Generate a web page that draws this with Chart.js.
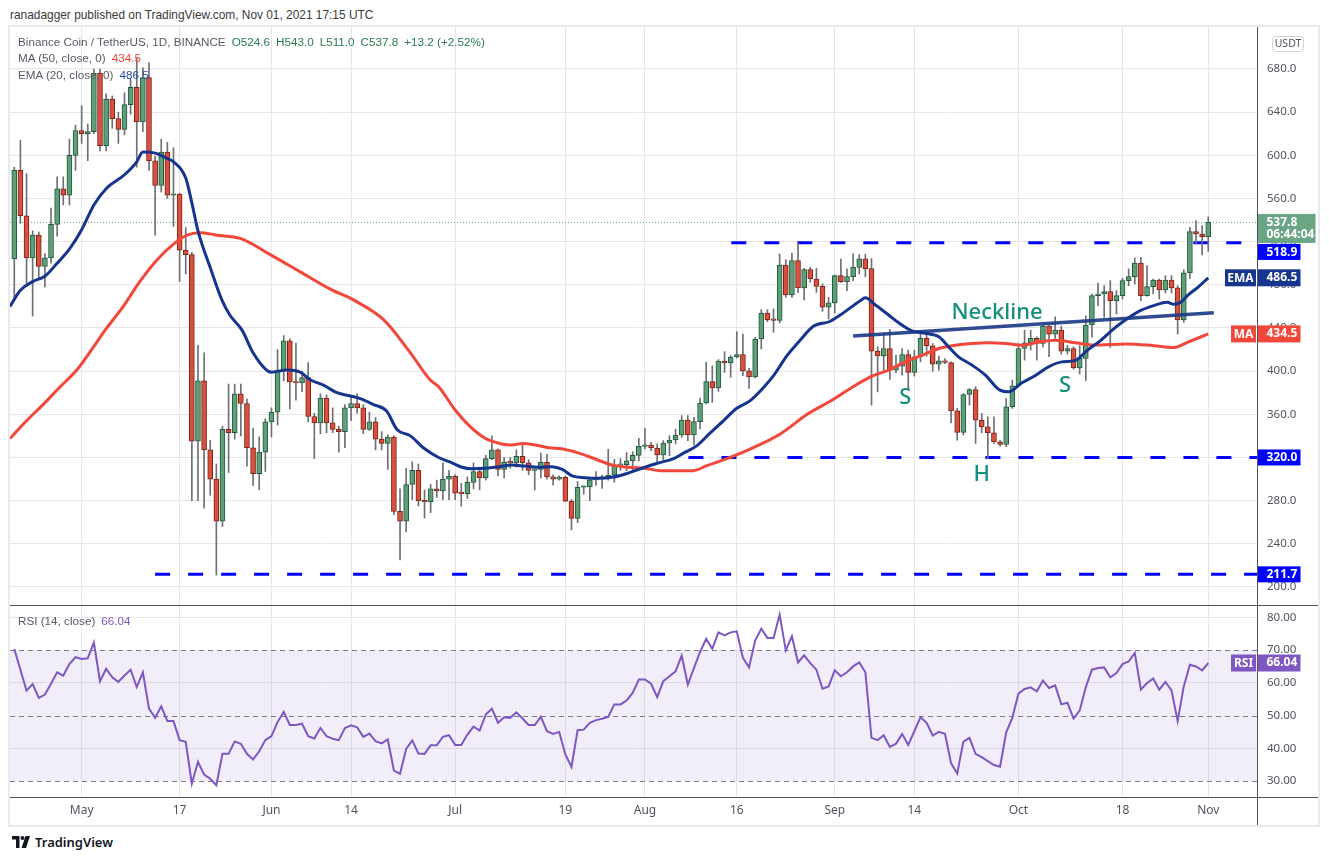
<!DOCTYPE html>
<html>
<head>
<meta charset="utf-8">
<script src="https://cdn.jsdelivr.net/npm/chart.js@4.4.0/dist/chart.umd.min.js"></script>
<style>
html,body{margin:0;padding:0;background:#fff;width:1329px;height:860px;overflow:hidden;font-family:"Noto Sans",sans-serif;}
#frame{position:absolute;left:8px;top:25px;width:1312px;height:802px;border:2px solid #e8eaef;box-sizing:border-box;}
#pub{position:absolute;left:10px;top:6px;font-family:"Liberation Sans",Arial,sans-serif;font-size:11.9px;line-height:18px;color:#3a3a3a;white-space:nowrap;}
#pricebox{position:absolute;left:0;top:27px;width:1329px;height:578px;}
#rsibox{position:absolute;left:0;top:605px;width:1329px;height:220px;}
.hl{position:absolute;left:10px;width:1308px;height:1px;background:#50535e;}
.vl{position:absolute;left:1257px;top:27px;width:1px;height:798px;background:#50535e;}
.leg{position:absolute;left:18px;font-family:"Liberation Sans",Arial,sans-serif;font-size:11.7px;line-height:18px;white-space:nowrap;color:#555a64;}
.leg span{margin-right:6px;}
.g{color:#2b7a53;}
#tv{position:absolute;left:12px;top:833px;display:flex;align-items:center;gap:5px;font-size:13px;font-weight:600;color:#131722;}
</style>
</head>
<body>
<div id="frame"></div>
<div id="pub">ranadagger published on TradingView.com, Nov 01, 2021 17:15 UTC</div>
<div id="pricebox"><canvas id="price" width="1329" height="578"></canvas></div>
<div id="rsibox"><canvas id="rsi" width="1329" height="220"></canvas></div>
<div class="hl" style="top:605px"></div>
<div class="hl" style="top:797px"></div>
<div class="vl"></div>
<div class="leg" id="leg1" style="top:33px"></div>
<div class="leg" id="leg2" style="top:49px"></div>
<div class="leg" id="leg3" style="top:66px"></div>
<div class="leg" id="leg4" style="top:612px"></div>
<div id="tv"><svg width="18" height="12" viewBox="0 0 36 24"><path d="M0 0h15v24H8V7H0z" fill="#131722"/><circle cx="21" cy="4" r="4" fill="#131722"/><path d="M27 0h9L28 24H19z" fill="#131722"/></svg><span>TradingView</span></div>
<script>
// ---------------- data ----------------
const startDate = '2021-04-20';
const opens = [504,586,544,505,526,497,505,536,569,563,
600,623,620,622,676,609,652,634,624,647,
663,631,672,595,572,603,563,564,512,508,
335,391,327,300,261,346,343,379,370,329,
305,325,353,362,401,428,390,389,394,358,
352,375,352,346,344,366,370,366,346,353,
337,333,339,270,261,295,308,280,279,291,
289,300,302.5,287,286.5,297,307,301,319,327,
309,316,315,321,315,308,309,315.5,302,300,
301.6,279.4,263.6,292.4,292.8,299.2,300.7,301.6,303.5,312.7,
313.4,316.8,322,330.3,331.6,328.8,322.3,333.4,336.2,340.8,
354.7,340.8,353.2,370.5,390.3,384.4,409.4,407.6,413.1,415.3,
400.2,394.6,429.8,453.9,447.4,447,498.4,470.6,502.4,477.1,
494,485.4,478.6,459.2,463.2,488.5,482.9,487.6,496.2,504,
495,418.5,414.2,421,400.9,404.6,415.4,398.8,413.3,430.3,
423.5,406.5,409.6,408,363.2,343.2,378.4,383,354.6,348.4,
342.9,334.5,332,367,386.4,421,426.3,430.3,425.6,441.7,
434.3,438,418.5,421,403,411.9,442.8,470,471.5,473.7,
465.3,470,483.9,487.6,500.2,470,478.3,484.5,475.2,484.5,
477.1,447.4,491,529.3,527.1,524.6];
const highs = [589,614,583,530,529,509,551,580,580,615,
628,646,629,680,680,657,655,640,658,671,
690,681,686,599,615,612,607,565,533,510,
424,417,336,314,349,388,388,388,374,347,
339,356,366,420,433,430,426,400,408,361,
379,378,366,349,369,377,379,369,362,357,
344,341,340,291,310,316,314,290,295,299,
315,308,304,296,302,315,311,322,340,328,
320,320,327,334,318,311.5,324,323,304,303,
303,281,297.6,293.6,301.6,307,303.8,327.6,318.3,319,
324.5,325.4,337.8,347,334,332.5,335.6,340.2,346.4,358.8,
358.8,357.2,375.1,408.2,405,410.7,418,414.4,436.6,434.4,
402.6,431.3,457,457,457.6,508.6,503.3,509.5,518.8,495.3,
496.2,495.3,480.8,468.4,489.1,503.9,494.7,508.6,508,508.4,
504.4,422.5,435.5,438.6,414.8,421,419.5,419.5,437.4,435.5,
425.6,413.9,411.7,408.6,365.4,379.3,383.9,385.5,360.8,357.7,
357.7,336,374.7,391.7,425.6,438,438,431.8,443.6,442.5,
450.3,441.7,424,422.5,423.6,451.4,471.5,481.7,479.2,483.9,
474.6,486,494.7,504.9,505.5,497.8,485.4,485.4,488.5,488.5,
479.2,494,533.3,539.5,534.8,543];
const lows = [468,537,480,451,486,478,500,525,554,554,
586,611,595,620,604,604,625,611,619,638,
589,622,586,526,566,560,534,483,490,280,
280,273,285,211,256,306,337,340,312,294,
290,307,339,350,391,365,373,381,353,319,
342,343,343,325,329,354,361,342,345,327,
327,309,267,225,251,281,275,264,269,283,
281,281,281,275,282,291,290,299,318,303,
301,310,311,308,304,290,301,300,294.5,299,
279,253,259.6,286,280,294,291.4,299,297,308,
307.8,307,316.8,327.9,326.3,315.5,318,321.7,332.5,338.7,
335.6,331.6,346.4,369.6,371.1,381.3,398.9,394.3,412.2,395.8,
384,393.7,420.5,445.9,436,444.6,468.4,468.4,473,466,
482.3,473,455.4,448.3,453.9,482.3,474.6,483.9,490,487.4,
368.5,380.8,399.4,392.3,398.5,396.3,382.4,395.4,408.6,413.9,
400,400.9,407,352.1,336,340.7,368.5,333,342.9,319,
333,330.5,329.9,365.4,385.5,410.2,419.5,410.2,422.5,413.3,
430.3,415.8,415.8,401.9,397.4,391.2,431.4,460.7,449.9,422,
453,466.9,479.2,480.8,465.3,469.4,471.5,466.9,472.4,472.4,
434.4,445.2,486,517.8,507.6,511];
const closes = [586,544,505,526,497,505,536,569,563,600,
623,620,622,676,609,652,634,624,647,663,
631,672,595,572,603,563,564,512,508,335,
391,327,300,261,346,343,379,370,329,305,
325,353,362,401,428,390,389,394,358,352,
375,352,346,344,366,370,366,346,353,337,
333,339,270,261,295,308,280,279,291,289,
300,302.5,287,286.5,297,307,301,319,327,309,
316,315,321,315,308,309,315.5,302,300,301.6,
279.4,263.6,292.4,292.8,299.2,300.7,301.6,303.5,312.7,313.4,
316.8,322,330.3,331.6,328.8,322.3,333.4,336.2,340.8,354.7,
340.8,353.2,370.5,390.3,384.4,409.4,407.6,413.1,415.3,400.2,
394.6,429.8,453.9,447.4,447,498.4,470.6,502.4,477.1,494,
485.4,478.6,459.2,463.2,488.5,482.9,487.6,496.2,504,495,
418.5,414.2,421,400.9,404.6,415.4,398.8,413.3,430.3,423.5,
406.5,409.6,408,363.2,343.2,378.4,383,354.6,348.4,342.9,
334.5,332,367,386.4,421,426.3,430.3,425.6,441.7,434.3,
438,418.5,421,403,411.9,442.8,470,471.5,473.7,465.3,
470,483.9,487.6,500.2,470,478.3,484.5,475.2,484.5,477.1,
447.4,491,529.3,527.1,524.6,537.8];
const rsi14 = [70.3,64,57.6,59.6,55.4,56.4,59.7,63.2,62.2,65.7,
67.8,67.3,67.5,72.3,60.5,64.3,61.7,60.3,62.2,64,
58.7,63.2,52.1,49.3,52.8,48.3,48.3,42.5,42,29.2,
35.9,32,30.7,28.7,38.3,38.3,42.1,41.4,38.3,36.6,
39.1,42.5,43.7,48,51.1,47.1,47.1,47.5,43.7,43,
46.2,43.7,42.9,42.5,46.2,47,46.4,43.5,44.5,42.2,
41.5,42.7,33.2,32.2,39.8,42.4,38.4,38.3,40.9,40.9,
43.5,44,41,41,44.2,46.6,45.4,50.3,52.1,47.8,
49.5,49.3,51,49.1,47.1,47.1,49.6,45.2,44.4,45,
38.1,34.3,45.5,45.7,47.8,48.6,49,49.6,53.4,53.4,
54.6,56.9,61,61,59.7,55.6,60.5,62,63.5,68.3,
59.4,64.5,69.4,73.4,70.4,75.4,74.5,75.4,75.7,67.6,
64.7,72.9,76.5,73.7,73.7,80.8,69.9,74.2,66.2,68.4,
66,64,58.2,58.9,63.8,62,63.2,65,66.2,63.2,
43.2,42.5,44,40.4,41.4,44.4,41,45.2,49.5,47.8,
43.9,45,44.4,35.4,32.3,42,43.2,38.3,37.3,36.1,
34.9,34.4,44.9,49.3,56.7,58.1,58.6,57.4,60.7,58.4,
59.2,53.4,53.9,49.1,51.5,58.7,64,64.5,64.7,61.7,
63,65.7,66.5,69.1,57.9,59.9,61.3,57.9,60.3,57.7,
48.3,58.9,65.5,65,63.8,66.04];
// [day index, value]
const ema20 = [[-0.7,460],[1,475],[3,483],[5,488],[7,500],[9,513],[11,531],[13,554],[15,569],[18,582],[20,594],[21,603],[23,602],[25,597],[26,594],[28,579],[29,556],[30,530],[32,496],[33.9,466],[35.2,452],[37.2,438],[39,417],[41.2,401],[42,399],[44.5,401],[46.7,399],[48.3,392],[50.5,387],[52.7,380],[54.9,377],[56.5,374.5],[58.7,369],[60.8,363],[62.5,346],[64.7,340],[66.8,329],[69.3,320],[71.5,315],[73.1,311],[74.7,309.6],[76.9,310],[79.1,311.5],[81.3,313],[83.4,312],[85.6,311],[87.8,311.5],[89.5,309],[91.1,303],[93.2,301.3],[95.4,300.7],[97.6,301.6],[99.8,304.7],[102,309],[105,314.6],[107.7,319],[109.3,324],[111.5,331],[113.7,343],[115.8,354],[118,365.6],[120.2,372.7],[122.4,385],[124,395.8],[126.2,414.4],[128.3,428.3],[130.5,441.5],[133.2,446],[135.4,454],[138.1,465],[139,468],[140.7,461],[142.8,452],[144.4,445],[146.6,437.4],[148.8,435],[151,431.8],[152.6,422.5],[154.2,413.3],[156.4,405.6],[158.6,396.3],[160.8,383],[162.4,380.8],[164.5,389],[166.7,395.7],[168.9,404],[171.1,408.6],[173.3,410],[175.2,419],[177.4,428.3],[179.5,439],[181.7,448.3],[183.9,456],[186.1,460.7],[188.3,463.8],[189.4,462],[190.5,463.8],[191.6,470],[193.3,477.7],[195,486.5]];
const ma50 = [[-0.7,337.5],[2,354],[4.7,369],[7.5,385.5],[10.2,401],[12.4,418],[15.1,440],[17.8,460],[20.5,483],[23.3,503],[26,517.7],[28.2,526],[30.3,528.3],[33.1,526],[36.9,523],[41.8,508],[46.7,492],[51.6,476],[55.4,466],[60.3,447.7],[64.7,417],[67.9,392],[69.3,385.6],[72,364],[74.2,350],[76.9,337.8],[79.6,332.5],[81.3,331.6],[82.9,333],[85.1,331.6],[87.3,329],[89.4,328],[92.2,324],[94.9,318.6],[97.6,313],[100.3,311],[103,310],[105.5,307.8],[110.9,307.8],[113.1,312.4],[116.4,319],[120.8,329.4],[125.1,341.8],[129.5,360],[133.8,374],[137.4,387],[140.1,395.4],[142.8,401],[145.5,408.6],[148.3,414.8],[151,421],[153.7,424],[156.4,425.6],[159.1,426.3],[161.9,425.6],[164.6,424],[167.3,427],[170,428.7],[173.3,426.3],[176.3,424.2],[181.7,425.2],[186.1,423.6],[189.4,422],[191.6,426.7],[195,434.5]];
const necklinePts = [[137,432.6],[195.9,454.0]];
const keyLevels = [518.9, 320.0, 211.7];
const keyLevelFromDay = [117.1, 110.1, 23.0];
const priceTicks = [200,240,280,320,360,400,440,480,520,560,600,640,680];
const rsiTicks = [30,40,50,60,70,80];
const rsiBands = [30,50,70];
const tickDates = ['2021-05-01','2021-05-17','2021-06-01','2021-06-14','2021-07-01','2021-07-19','2021-08-01','2021-08-16','2021-09-01','2021-09-14','2021-10-01','2021-10-18','2021-11-01'];
const countdown = '06:44:04';
const patternLabels = [
  {text:'Neckline', day:160.5, price:453.9},
  {text:'S', day:145.5, price:375.1},
  {text:'H', day:158.0, price:303.8},
  {text:'S', day:171.6, price:386.2}
];

// ---------------- derived ----------------
const N = closes.length, last = N - 1;
const X_MIN = -0.7, X_MAX = 202.96;
const P_MIN = 183.3, P_MAX = 718.9;
const R_MIN = 25.13, R_MAX = 83.75;
const t0 = Date.parse(startDate + 'T00:00:00Z');
const MONTHS = ['Jan','Feb','Mar','Apr','May','Jun','Jul','Aug','Sep','Oct','Nov','Dec'];
const tickIdx = tickDates.map(d => Math.round((Date.parse(d + 'T00:00:00Z') - t0) / 86400000));
const tickText = {};
tickDates.forEach((d, k) => { const dt = new Date(d + 'T00:00:00Z'); tickText[tickIdx[k]] = dt.getUTCDate() === 1 ? MONTHS[dt.getUTCMonth()] : String(dt.getUTCDate()); });

const FONT = '"Noto Sans", sans-serif';
const UP_FILL = '#5f9e79', UP_LINE = '#1f5a3a', DN_FILL = '#d9503e', DN_LINE = '#7a2318', WICK = '#6f7075';
const EMA_C = '#16358f', MA_C = '#f2483c', LEVEL_C = '#0000ff', TEAL = '#13907d', RSI_C = '#7e57c2', LAST_C = '#6aa584';
const GRID = '#e7e7ea', TICK_C = '#50535e';

const emaLast = ema20[ema20.length - 1][1];
const maLast = ma50[ma50.length - 1][1];
const chg = closes[last] - closes[last - 1];
const pct = chg / closes[last - 1] * 100;
const sg = v => (v >= 0 ? '+' : '');
document.getElementById('leg1').innerHTML =
  '<span>Binance Coin / TetherUS, 1D, BINANCE</span>' +
  '<span class="g">O' + opens[last].toFixed(1) + '</span>' +
  '<span class="g">H' + highs[last].toFixed(1) + '</span>' +
  '<span class="g">L' + lows[last].toFixed(1) + '</span>' +
  '<span class="g">C' + closes[last].toFixed(1) + '</span>' +
  '<span class="g">' + sg(chg) + chg.toFixed(1) + ' (' + sg(pct) + pct.toFixed(2) + '%)</span>';
document.getElementById('leg2').innerHTML = '<span>MA (50, close, 0)</span><span style="color:' + MA_C + '">' + maLast.toFixed(1) + '</span>';
document.getElementById('leg3').innerHTML = '<span>EMA (20, close, 0)</span><span style="color:#2a4bb0">' + emaLast.toFixed(1) + '</span>';
document.getElementById('leg4').innerHTML = '<span>RSI (14, close)</span><span style="color:' + RSI_C + '">' + rsi14[last].toFixed(2) + '</span>';

function noPad(s) { s.paddingTop = 0; s.paddingBottom = 0; s.paddingLeft = 0; s.paddingRight = 0; }

function drawTag(ctx, x, top, w, h, bg, lines, font) {
  ctx.fillStyle = bg;
  ctx.fillRect(x, top, w, h);
  ctx.fillStyle = '#fff';
  ctx.font = font;
  ctx.textBaseline = 'middle';
  ctx.textAlign = 'left';
  lines.forEach((t, k) => ctx.fillText(t, x + 9, top + 8.5 + k * 12.5));
}
function drawSideTag(ctx, right, top, w, h, bg, text, font) {
  ctx.fillStyle = bg;
  ctx.fillRect(right - w, top, w, h);
  ctx.fillStyle = '#fff';
  ctx.font = font;
  ctx.textBaseline = 'middle';
  ctx.textAlign = 'center';
  ctx.fillText(text, right - w / 2, top + h / 2 + 0.5);
}

const priceOverlay = {
  id: 'priceOverlay',
  afterDraw(chart) {
    const { ctx, chartArea, scales: { x, y } } = chart;
    ctx.save();
    ctx.fillStyle = TEAL;
    ctx.textAlign = 'center';
    ctx.textBaseline = 'middle';
    patternLabels.forEach(a => {
      ctx.font = '500 22px ' + FONT;
      ctx.fillText(a.text, x.getPixelForValue(a.day), y.getPixelForValue(a.price));
    });
    const R = chartArea.right;
    const bold = 'bold 12px ' + FONT;
    const tags = [
      { v: closes[last], bg: LAST_C, h: 29, w: 58, off: 8.5, lines: [closes[last].toFixed(1), countdown] },
      { v: keyLevels[0], bg: LEVEL_C, h: 16, w: 43, off: 8, lines: [keyLevels[0].toFixed(1)] },
      { v: emaLast, bg: EMA_C, h: 17, w: 43, off: 8.5, lines: [emaLast.toFixed(1)], side: 'EMA', sw: 31 },
      { v: maLast, bg: MA_C, h: 17, w: 43, off: 8.5, lines: [maLast.toFixed(1)], side: 'MA', sw: 25 },
      { v: keyLevels[1], bg: LEVEL_C, h: 16, w: 43, off: 8, lines: [keyLevels[1].toFixed(1)] },
      { v: keyLevels[2], bg: LEVEL_C, h: 16, w: 43, off: 8, lines: [keyLevels[2].toFixed(1)] }
    ];
    tags.forEach(t => { t.top = y.getPixelForValue(t.v) - t.off; });
    tags.sort((a, b) => a.top - b.top);
    for (let k = 1; k < tags.length; k++) {
      const prev = tags[k - 1];
      if (tags[k].top < prev.top + prev.h + 1) tags[k].top = prev.top + prev.h + 1;
    }
    tags.forEach(t => {
      drawTag(ctx, R + 0.5, t.top, t.w, t.h, t.bg, t.lines, bold);
      if (t.side) drawSideTag(ctx, R - 1, t.top, t.sw, t.h, t.bg, t.side, bold);
    });
    ctx.strokeStyle = '#cfd2d9';
    ctx.lineWidth = 1;
    ctx.beginPath();
    if (ctx.roundRect) ctx.roundRect(1272.5, 9.5, 31, 15, 3); else ctx.rect(1272.5, 9.5, 31, 15);
    ctx.stroke();
    ctx.fillStyle = '#50535e';
    ctx.font = '10.5px ' + FONT;
    ctx.textAlign = 'center';
    ctx.fillText('USDT', 1288, 17.5);
    ctx.restore();
  }
};

const rsiOverlay = {
  id: 'rsiOverlay',
  beforeDatasetsDraw(chart) {
    const { ctx, chartArea, scales: { y } } = chart;
    ctx.save();
    const yt = y.getPixelForValue(rsiBands[2]), yb = y.getPixelForValue(rsiBands[0]);
    ctx.fillStyle = 'rgba(126,87,194,0.10)';
    ctx.fillRect(chartArea.left, yt, chartArea.right - chartArea.left, yb - yt);
    ctx.strokeStyle = '#7b7e88';
    ctx.lineWidth = 1;
    ctx.setLineDash([5, 4]);
    rsiBands.forEach(v => {
      const py = Math.round(y.getPixelForValue(v)) + 0.5;
      ctx.beginPath(); ctx.moveTo(chartArea.left, py); ctx.lineTo(chartArea.right, py); ctx.stroke();
    });
    ctx.restore();
  },
  afterDraw(chart) {
    const { ctx, chartArea, scales: { y } } = chart;
    ctx.save();
    const bold = 'bold 12px ' + FONT;
    const top = y.getPixelForValue(rsi14[last]) - 8.5;
    drawTag(ctx, chartArea.right + 0.5, top, 43, 17, RSI_C, [rsi14[last].toFixed(2)], bold);
    drawSideTag(ctx, chartArea.right - 1, top, 25, 17, RSI_C, 'RSI', bold);
    ctx.restore();
  }
};

const xCommon = {
  type: 'linear', min: X_MIN, max: X_MAX, offset: false,
  afterBuildTicks: s => { s.ticks = tickIdx.map(v => ({ value: v })); },
  grid: { color: GRID, drawTicks: false, offset: false },
  border: { display: false }
};

const days = closes.map((_, i) => i);
new Chart(document.getElementById('price'), {
  type: 'bar',
  data: {
    datasets: [
      { type: 'line', data: ema20.map(p => ({ x: p[0], y: p[1] })), borderColor: EMA_C, borderWidth: 3, pointRadius: 0, cubicInterpolationMode: 'monotone', order: 0 },
      { type: 'line', data: ma50.map(p => ({ x: p[0], y: p[1] })), borderColor: MA_C, borderWidth: 3, pointRadius: 0, cubicInterpolationMode: 'monotone', order: 0 },
      { type: 'line', data: necklinePts.map(p => ({ x: p[0], y: p[1] })), borderColor: 'rgba(30,60,135,0.92)', borderWidth: 3.5, pointRadius: 0, order: 0 },
      { type: 'bar', data: days.map(i => ({ x: i, y: [opens[i], closes[i]] })),
        backgroundColor: days.map(i => closes[i] >= opens[i] ? UP_FILL : DN_FILL),
        borderColor: days.map(i => closes[i] >= opens[i] ? UP_LINE : DN_LINE),
        borderWidth: 1, borderSkipped: false, barThickness: 5, minBarLength: 1.5, grouped: false, order: 2 },
      { type: 'bar', data: days.map(i => ({ x: i, y: [lows[i], highs[i]] })),
        backgroundColor: WICK, borderWidth: 0, barThickness: 1, grouped: false, order: 3 },
      ...keyLevels.map((lv, k) => ({ type: 'line', data: [{ x: keyLevelFromDay[k], y: lv }, { x: X_MAX, y: lv }], borderColor: LEVEL_C, borderWidth: 3, borderDash: [15, 18], pointRadius: 0, order: 4 })),
      { type: 'line', data: [{ x: X_MIN, y: closes[last] }, { x: X_MAX, y: closes[last] }], borderColor: LAST_C, borderWidth: 1, borderDash: [1, 2], pointRadius: 0, order: 5 }
    ]
  },
  options: {
    responsive: false, animation: false,
    layout: { padding: { left: 10, right: 11, top: 0, bottom: 0 } },
    plugins: { legend: { display: false }, tooltip: { enabled: false } },
    scales: {
      x: Object.assign({}, xCommon, { ticks: { display: false }, afterFit: s => { s.height = 0; noPad(s); } }),
      y: {
        position: 'right', min: P_MIN, max: P_MAX,
        afterBuildTicks: s => { s.ticks = priceTicks.map(v => ({ value: v })); },
        ticks: { callback: v => Number(v).toFixed(1), color: TICK_C, font: { size: 11.5, family: FONT }, padding: 10 },
        grid: { color: GRID, drawTicks: false },
        border: { display: false },
        afterFit: s => { s.width = 61; noPad(s); }
      }
    }
  },
  plugins: [priceOverlay]
});

new Chart(document.getElementById('rsi'), {
  type: 'line',
  data: {
    datasets: [
      { data: rsi14.map((v, i) => ({ x: i, y: v })), borderColor: RSI_C, borderWidth: 2, pointRadius: 0, tension: 0 }
    ]
  },
  options: {
    responsive: false, animation: false,
    layout: { padding: { left: 10, right: 11, top: 0, bottom: 0 } },
    plugins: { legend: { display: false }, tooltip: { enabled: false } },
    scales: {
      x: Object.assign({}, xCommon, {
        ticks: { autoSkip: false, maxRotation: 0, color: TICK_C, font: { size: 12, family: FONT }, padding: 6, callback: v => tickText[v] || '' },
        afterFit: s => { s.height = 28; noPad(s); }
      }),
      y: {
        position: 'right', min: R_MIN, max: R_MAX,
        afterBuildTicks: s => { s.ticks = rsiTicks.map(v => ({ value: v })); },
        ticks: { callback: v => Number(v).toFixed(2), color: TICK_C, font: { size: 11.5, family: FONT }, padding: 10 },
        grid: { color: c => rsiBands.includes(c.tick && c.tick.value) ? 'rgba(0,0,0,0)' : GRID, drawTicks: false },
        border: { display: false },
        afterFit: s => { s.width = 61; noPad(s); }
      }
    }
  },
  plugins: [rsiOverlay]
});
</script>
</body>
</html>
